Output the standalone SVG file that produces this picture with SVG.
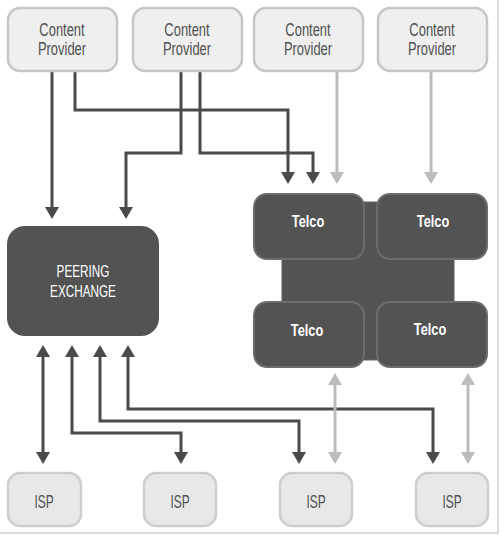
<svg xmlns="http://www.w3.org/2000/svg" width="500" height="536" viewBox="0 0 500 536">
<style>
.cp{fill:#efefef;stroke:#c6c6c6;stroke-width:2.5}
.isp{fill:#e8e8e8;stroke:#cecece;stroke-width:2.5}
.dk{fill:#535353}
.tb{fill:#535353;stroke:#6c6c6c;stroke-width:2}
.core{fill:#535353;stroke:#626262;stroke-width:1}
.lt{font-family:"Liberation Sans",Arial,sans-serif;font-size:18.5px;fill:#505050;text-anchor:middle}
.wt{font-family:"Liberation Sans",Arial,sans-serif;font-size:17px;fill:#fff;text-anchor:middle}
.tl{font-family:"Liberation Sans",Arial,sans-serif;font-size:16px;font-weight:bold;fill:#fff;text-anchor:middle}
.d{fill:none;stroke:#4a4a4a;stroke-width:3}
.g{fill:none;stroke:#bcbcbc;stroke-width:3}
</style>
<defs>
<marker id="ad" markerUnits="userSpaceOnUse" markerWidth="12" markerHeight="14" refX="6" refY="7" orient="auto" viewBox="0 0 12 14"><path d="M0,0 L12,7 L0,14 z" fill="#4a4a4a"/></marker>
<marker id="ag" markerUnits="userSpaceOnUse" markerWidth="12" markerHeight="14" refX="6" refY="7" orient="auto" viewBox="0 0 12 14"><path d="M0,0 L12,7 L0,14 z" fill="#bcbcbc"/></marker>
<marker id="ags" markerUnits="userSpaceOnUse" markerWidth="12" markerHeight="14" refX="6" refY="7" orient="auto-start-reverse" viewBox="0 0 12 14"><path d="M0,0 L12,7 L0,14 z" fill="#bcbcbc"/></marker>
<marker id="ads" markerUnits="userSpaceOnUse" markerWidth="12" markerHeight="14" refX="6" refY="7" orient="auto-start-reverse" viewBox="0 0 12 14"><path d="M0,0 L12,7 L0,14 z" fill="#4a4a4a"/></marker>
</defs>
<line x1="498" y1="0" x2="498" y2="534" stroke="#dedede" stroke-width="2"/>
<line x1="0" y1="533" x2="499" y2="533" stroke="#dedede" stroke-width="2"/>
<g id="connectors">
<path class="d" d="M52,72 V213" marker-end="url(#ad)"/>
<path class="d" d="M75,72 V110 H288 V178" marker-end="url(#ad)"/>
<path class="d" d="M181,72 V153 H126 V213" marker-end="url(#ad)"/>
<path class="d" d="M200,72 V153 H313 V178" marker-end="url(#ad)"/>
<path class="g" d="M337,72 V178" marker-end="url(#ag)"/>
<path class="g" d="M431,72 V178" marker-end="url(#ag)"/>
<path class="d" d="M43,351 V458" marker-start="url(#ads)" marker-end="url(#ad)"/>
<path class="d" d="M72,351 V433 H181 V458" marker-start="url(#ads)" marker-end="url(#ad)"/>
<path class="d" d="M100,351 V421 H299 V458" marker-start="url(#ads)" marker-end="url(#ad)"/>
<path class="d" d="M128,351 V409 H433 V458" marker-start="url(#ads)" marker-end="url(#ad)"/>
<path class="g" d="M335,379 V458" marker-start="url(#ags)" marker-end="url(#ag)"/>
<path class="g" d="M468,379 V458" marker-start="url(#ags)" marker-end="url(#ag)"/>
</g>
<g id="cp1"><rect class="cp" x="8" y="8" width="109" height="63" rx="12"/><text class="lt" transform="translate(62,36) scale(0.7,1)">Content</text><text class="lt" transform="translate(62,55) scale(0.7,1)">Provider</text></g>
<g id="cp2"><rect class="cp" x="133" y="8" width="109" height="63" rx="12"/><text class="lt" transform="translate(187,36) scale(0.7,1)">Content</text><text class="lt" transform="translate(187,55) scale(0.7,1)">Provider</text></g>
<g id="cp3"><rect class="cp" x="254" y="8" width="109" height="63" rx="12"/><text class="lt" transform="translate(308,36) scale(0.7,1)">Content</text><text class="lt" transform="translate(308,55) scale(0.7,1)">Provider</text></g>
<g id="cp4"><rect class="cp" x="378" y="8" width="109" height="63" rx="12"/><text class="lt" transform="translate(432,36) scale(0.7,1)">Content</text><text class="lt" transform="translate(432,55) scale(0.7,1)">Provider</text></g>
<g id="peering"><rect class="dk" x="7" y="226" width="152" height="110" rx="18"/><text class="wt" transform="translate(83,277) scale(0.69,1)">PEERING</text><text class="wt" transform="translate(83,297) scale(0.69,1)">EXCHANGE</text></g>
<g id="telco-core"><rect class="core" x="282" y="202" width="172" height="158"/></g>
<g id="telco1"><rect class="tb" x="254" y="194" width="110" height="65" rx="13"/><text class="tl" transform="translate(308,227) scale(0.8,1)">Telco</text></g>
<g id="telco2"><rect class="tb" x="377" y="194" width="110" height="65" rx="13"/><text class="tl" transform="translate(433,227) scale(0.8,1)">Telco</text></g>
<g id="telco3"><rect class="tb" x="254" y="302" width="110" height="65" rx="13"/><text class="tl" transform="translate(307,336) scale(0.8,1)">Telco</text></g>
<g id="telco4"><rect class="tb" x="377" y="302" width="110" height="65" rx="13"/><text class="tl" transform="translate(430,335) scale(0.8,1)">Telco</text></g>
<g id="isp1"><rect class="isp" x="8" y="473" width="73" height="53" rx="12"/><text class="lt" transform="translate(44,508) scale(0.64,1)">ISP</text></g>
<g id="isp2"><rect class="isp" x="144" y="473" width="72" height="53" rx="12"/><text class="lt" transform="translate(180,508) scale(0.64,1)">ISP</text></g>
<g id="isp3"><rect class="isp" x="280" y="473" width="72" height="53" rx="12"/><text class="lt" transform="translate(316,508) scale(0.64,1)">ISP</text></g>
<g id="isp4"><rect class="isp" x="416" y="473" width="72" height="53" rx="12"/><text class="lt" transform="translate(452,508) scale(0.64,1)">ISP</text></g>
</svg>
